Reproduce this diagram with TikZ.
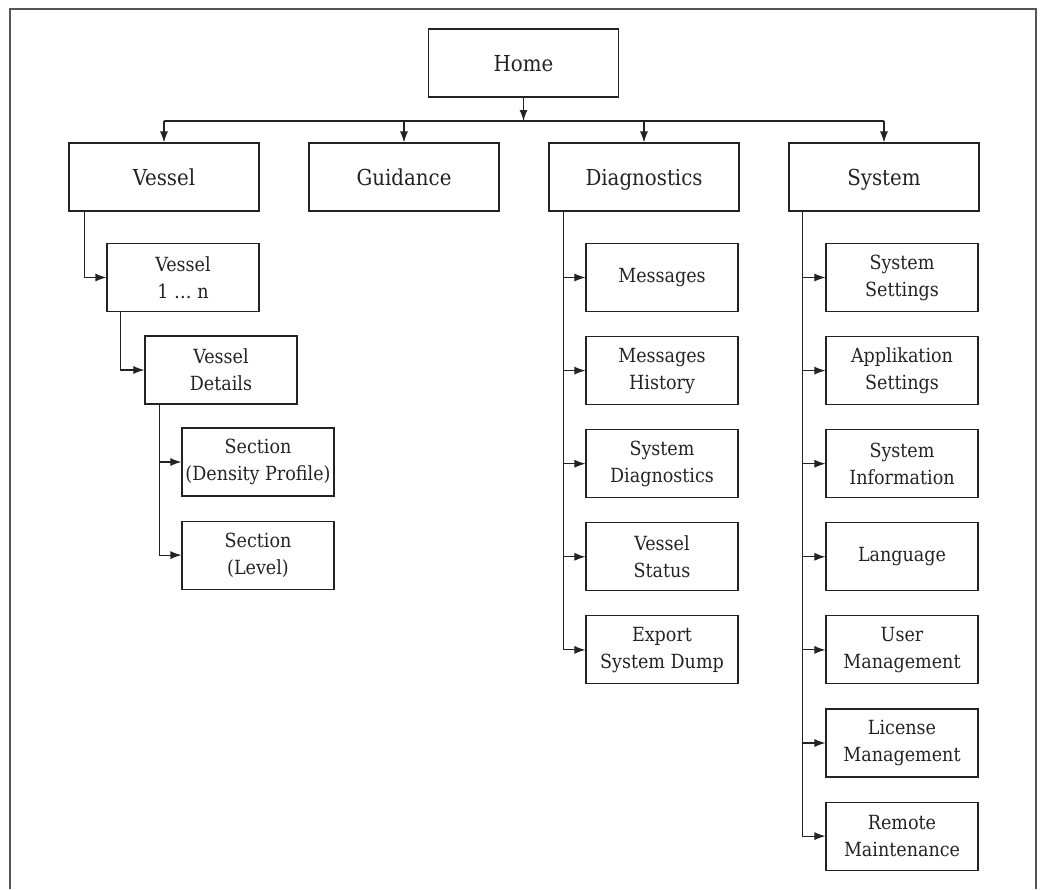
\documentclass[tikz,border=0pt]{standalone}
\usepackage{fontspec}
\setmainfont{DejaVu Serif Condensed}
\usetikzlibrary{arrows.meta, positioning}
\definecolor{linegray}{RGB}{35,35,35}
\definecolor{framegray}{RGB}{85,85,85}
\tikzset{
  mainbox/.style={draw=linegray, line width=1.1pt, minimum width=190pt, minimum height=68pt, align=center, text=linegray, text height=21pt, text depth=5pt, font=\fontsize{22}{27}\selectfont},
  subbox/.style={draw=linegray, line width=1.1pt, minimum width=152pt, minimum height=68pt, align=center, text=linegray, font=\fontsize{19.5}{27}\selectfont},
  link/.style={draw=linegray, line width=1.1pt, -{Latex[length=11pt,width=8pt]}}
}

\begin{document}
\begin{tikzpicture}[x=1pt,y=-1pt]
  \useasboundingbox (0,0) rectangle (1043,889);
  \draw[framegray, line width=2pt] (10,889) -- (10,9) -- (1036,9) -- (1036,889);

  % top level
  \node[mainbox] (home) at (523.5,63) {Home};
  \node[mainbox] (vessel) at (164,177) {Vessel};
  \node[mainbox] (guidance) at (404,177) {Guidance};
  \node[mainbox] (diag) at (644,177) {Diagnostics};
  \node[mainbox] (system) at (884,177) {System};
  \coordinate (bus) at (523.5,121);

  \draw[link] (home.south) -- (bus);
  \draw[linegray, line width=1.1pt] (vessel.north |- bus) -- (system.north |- bus);
  \foreach \n in {vessel, guidance, diag, system}
    \draw[link] (\n.north |- bus) -- (\n.north);

  % vessel branch
  \node[subbox] (vesselN) at (183,277.5) {Vessel\\1 … n};
  \node[subbox] (vdetails) at (221,370) {Vessel\\Details};
  \node[subbox] (secdens) at (258,462) {Section\\(Density Profile)};
  \node[subbox, below=24pt of secdens] (seclevel) {Section\\(Level)};

  \draw[link] ([xshift=16pt]vessel.south west) |- (vesselN.west);
  \draw[link] ([xshift=14pt]vesselN.south west) |- (vdetails.west);
  \foreach \n in {secdens, seclevel}
    \draw[link] ([xshift=15pt]vdetails.south west) |- (\n.west);

  % diagnostics branch
  \node[subbox] (messages) at (662,277.5) {Messages};
  \node[subbox, below=24pt of messages] (msghist) {Messages\\History};
  \node[subbox, below=24pt of msghist] (sysdiag) {System\\Diagnostics};
  \node[subbox, below=24pt of sysdiag] (vstatus) {Vessel\\Status};
  \node[subbox, below=24pt of vstatus] (export) {Export\\System Dump};

  \foreach \n in {messages, msghist, sysdiag, vstatus, export}
    \draw[link] ([xshift=15pt]diag.south west) |- (\n.west);

  % system branch
  \node[subbox] (settings) at (902,277.5) {System\\Settings};
  \node[subbox, below=24pt of settings] (appsettings) {Applikation\\Settings};
  \node[subbox, below=24pt of appsettings] (sysinfo) {System\\Information};
  \node[subbox, below=24pt of sysinfo] (language) {Language};
  \node[subbox, below=24pt of language] (usermgmt) {User\\Management};
  \node[subbox, below=24pt of usermgmt] (license) {License\\Management};
  \node[subbox, below=24pt of license] (remote) {Remote\\Maintenance};

  \foreach \n in {settings, appsettings, sysinfo, language, usermgmt, license, remote}
    \draw[link] ([xshift=14pt]system.south west) |- (\n.west);
\end{tikzpicture}
\end{document}
